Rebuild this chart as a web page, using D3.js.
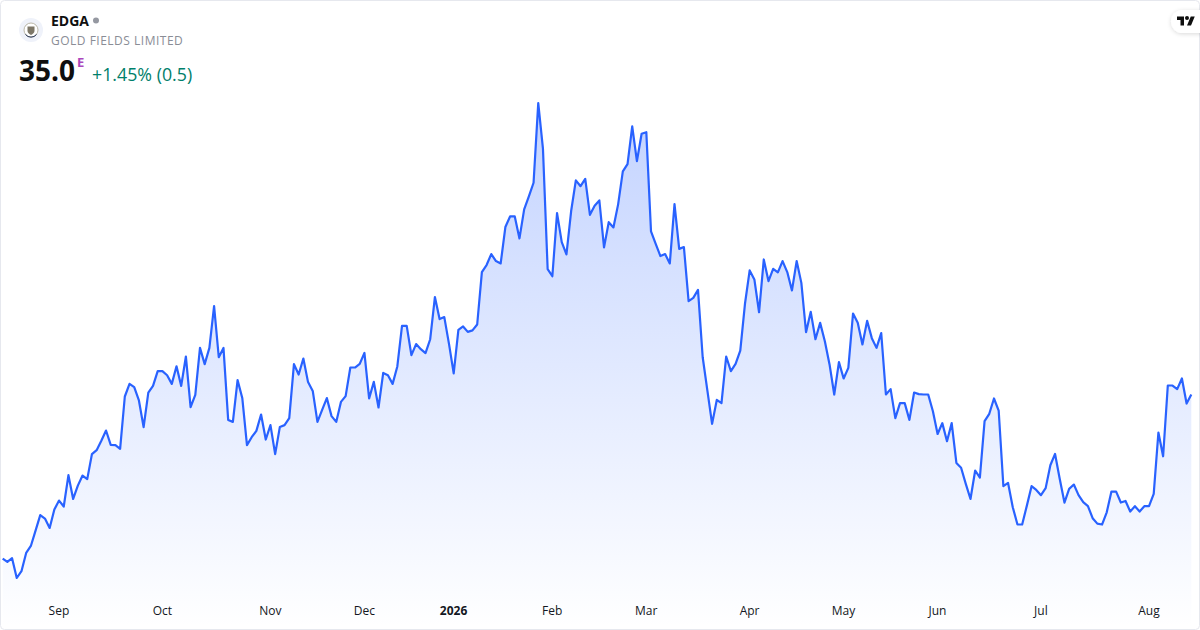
<!DOCTYPE html>
<html>
<head>
<meta charset="utf-8">
<script src="https://cdn.jsdelivr.net/npm/d3@7"></script>
<style>
  html, body { margin: 0; padding: 0; background: #fff; }
  svg { display: block; font-family: "Open Sans", sans-serif; }
</style>
</head>
<body>
<svg id="chart" width="1200" height="630"></svg>
<script>
var closes = [
  25.89,25.70,25.91,24.81,25.19,26.20,26.59,27.44,28.30,28.11,27.59,28.61,29.11,28.78,30.52,29.20,
  29.94,30.50,30.30,31.69,31.91,32.43,33.00,32.20,32.19,31.98,34.89,35.59,35.41,34.67,33.19,35.11,
  35.48,36.30,36.30,36.07,35.59,36.57,35.48,37.11,34.30,34.98,37.59,36.69,37.59,39.91,37.07,37.59,
  33.59,33.48,35.80,34.81,32.19,32.63,32.98,33.89,32.50,33.30,31.69,33.20,33.30,33.69,36.69,36.11,
  37.00,35.69,35.20,33.48,34.15,34.80,33.80,33.48,34.59,34.91,36.50,36.50,36.70,37.31,34.78,35.70,
  34.28,36.20,36.07,35.59,36.56,38.81,38.81,37.19,37.80,37.52,37.30,38.07,40.41,39.19,39.30,37.81,
  36.17,38.59,38.78,38.48,38.56,38.89,
  41.80,42.19,42.80,42.41,42.28,44.30,44.89,44.89,43.67,45.28,46.00,46.76,51.19,48.65,41.96,41.57,
  45.07,43.46,42.78,45.19,46.89,46.57,46.98,44.98,45.48,45.78,43.17,44.57,44.28,45.56,47.39,47.80,
  49.89,47.96,49.48,49.57,44.06,43.37,42.69,42.80,42.28,45.57,43.09,43.19,40.19,
  40.37,40.81,37.07,35.22,33.37,34.70,34.52,37.11,36.30,36.70,37.44,40.04,41.89,41.39,39.57,42.50,
  41.30,41.98,41.78,42.41,41.80,40.78,42.41,41.20,38.46,39.59,38.07,38.98,37.96,36.67,35.00,36.80,
  35.89,36.48,39.50,38.98,37.78,39.09,38.13,37.59,38.41,35.00,35.30,33.69,34.52,34.52,33.59,35.11,35.02,
  35.00,35.00,34.07,32.81,33.41,32.41,33.41,31.20,30.93,30.04,29.20,30.78,30.39,33.52,33.93,34.78,
  34.11,29.91,30.09,28.74,27.78,27.78,28.83,29.91,29.70,29.41,29.80,31.07,31.70,30.31,29.00,29.76,
  30.00,29.41,29.02,28.80,28.13,27.83,27.78,28.46,29.61,29.61,29.00,29.09,28.50,28.80,28.50,28.80,
  28.80,29.48,32.89,31.57,35.50,35.50,35.30,35.89,34.50,35.00
];
var tickLabels = ['Sep','Oct','Nov','Dec','2026','Feb','Mar','Apr','May','Jun','Jul','Aug'];
var tickSessions = [12,34,57,77,96,117,137,159,179,199,221,244];
var symbolName = 'EDGA';
var companyName = 'GOLD FIELDS LIMITED';
var lastPrice = '35.0';
var changeText = '+1.45% (0.5)';

var svg = d3.select('#chart');

var x = d3.scaleLinear().domain([0, closes.length - 1]).range([2.67, 1191.3]);
var y = d3.scaleLinear().domain([24.81, 51.19]).range([578, 103]);

// card outline
svg.append('rect')
  .attr('x', 0.5).attr('y', 0.5)
  .attr('width', 1199).attr('height', 629)
  .attr('rx', 4)
  .attr('fill', '#fff')
  .attr('stroke', '#e6e8ee');

var grad = svg.append('defs').append('linearGradient')
  .attr('id', 'fade')
  .attr('gradientUnits', 'userSpaceOnUse')
  .attr('x1', 0).attr('x2', 0)
  .attr('y1', y(51.19)).attr('y2', 628);
grad.append('stop').attr('offset', 0).attr('stop-color', '#2962ff').attr('stop-opacity', 0.28);
grad.append('stop').attr('offset', 1).attr('stop-color', '#2962ff').attr('stop-opacity', 0);

var area = d3.area()
  .x(function(d, i) { return x(i); })
  .y0(628)
  .y1(function(d) { return y(d); });

var line = d3.line()
  .x(function(d, i) { return x(i); })
  .y(function(d) { return y(d); });

svg.append('path')
  .datum(closes)
  .attr('d', area)
  .attr('fill', 'url(#fade)');

svg.append('path')
  .datum(closes)
  .attr('d', line)
  .attr('fill', 'none')
  .attr('stroke', '#2962ff')
  .attr('stroke-width', 2.2)
  .attr('stroke-linejoin', 'round');

// month labels
var axis = d3.axisBottom(x)
  .tickValues(tickSessions)
  .tickSize(0)
  .tickFormat(function(d, i) { return tickLabels[i]; });

var axisG = svg.append('g')
  .attr('transform', 'translate(-0.6,606)')
  .call(axis);
axisG.select('.domain').remove();
axisG.selectAll('text')
  .attr('y', 0)
  .attr('dy', '0.71em')
  .attr('fill', '#131722')
  .style('font-family', '"Open Sans", sans-serif')
  .style('font-size', '12px')
  .style('font-weight', function(d, i) { return tickLabels[i] === '2026' ? 700 : 400; });

// logo
svg.append('circle').attr('cx', 31).attr('cy', 30).attr('r', 12).attr('fill', '#eff2fa');
svg.append('circle').attr('cx', 31).attr('cy', 30).attr('r', 7)
  .attr('fill', '#fff').attr('stroke', '#b9b6a8').attr('stroke-width', 1);
svg.append('path')
  .attr('d', 'M27.5 26.5h7v4.5c0 1.8-1.7 3-3.5 4c-1.8-1-3.5-2.2-3.5-4z')
  .attr('fill', '#7d7768');
svg.append('path')
  .attr('d', 'M25.5 34.5a7 7 0 0 0 11 0')
  .attr('fill', 'none')
  .attr('stroke', '#2c3a5a')
  .attr('stroke-width', 1);

// header texts
svg.append('text').attr('x', 51).attr('y', 26)
  .attr('font-size', 14).attr('font-weight', 700).attr('fill', '#0f0f0f')
  .text(symbolName);
svg.append('circle').attr('cx', 96).attr('cy', 20.5).attr('r', 3).attr('fill', '#9598a1');
svg.append('text').attr('x', 51).attr('y', 45)
  .attr('font-size', 12).attr('fill', '#8a8d96').attr('letter-spacing', 0.5)
  .text(companyName);
svg.append('text').attr('x', 19).attr('y', 81)
  .attr('font-size', 28).attr('font-weight', 700).attr('fill', '#0f0f0f')
  .text(lastPrice);
svg.append('text').attr('x', 77).attr('y', 67)
  .attr('font-size', 13).attr('font-weight', 700).attr('fill', '#ab47bc')
  .text('E');
svg.append('text').attr('x', 92).attr('y', 81)
  .attr('font-size', 17.8).attr('fill', '#00806b')
  .text(changeText);

// watermark pill
var shadow = svg.select('defs').append('filter')
  .attr('id', 'pill').attr('x', '-30%').attr('y', '-30%').attr('width', '160%').attr('height', '160%');
shadow.append('feDropShadow')
  .attr('dx', 0).attr('dy', 1).attr('stdDeviation', 2)
  .attr('flood-color', '#000').attr('flood-opacity', 0.15);
svg.append('rect')
  .attr('x', 1171).attr('y', 10)
  .attr('width', 50).attr('height', 23).attr('rx', 11.5)
  .attr('fill', '#fff')
  .attr('filter', 'url(#pill)');
svg.append('path')
  .attr('transform', 'translate(1177,14.5) scale(0.5)')
  .attr('d', 'M14 22H7V11H0V4h14v18zM28 22h-8l7.5-18h8L28 22zM20 3a4 4 0 1 1 0 8a4 4 0 1 1 0-8z')
  .attr('fill', '#0f0f0f');
</script>
</body>
</html>
